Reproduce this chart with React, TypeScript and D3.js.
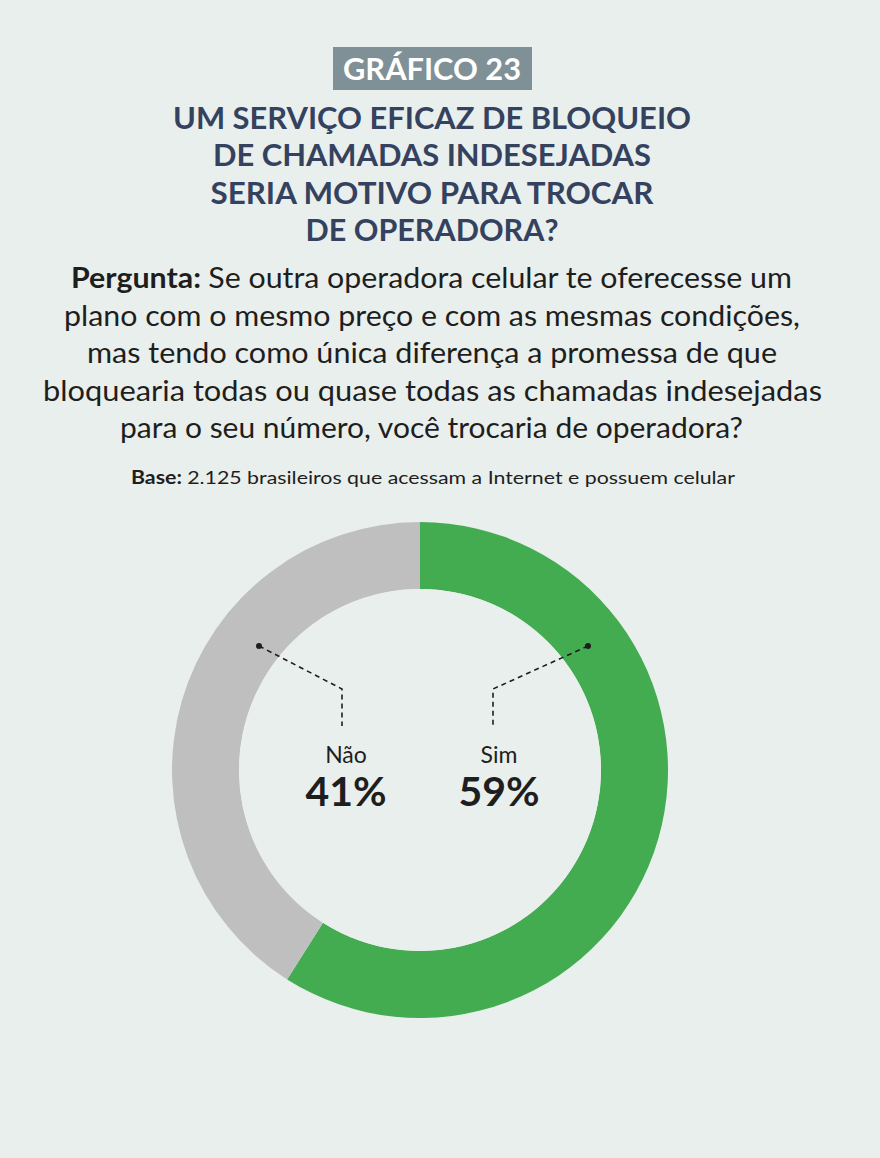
import React from "react";
import * as d3 from "d3";

const categories = ["Sim", "Não"];
const values = [59, 41];
const colors = ["#43ac50", "#bfbfbf"];

const titleBadge = "GRÁFICO 23";
const titleLines = [
  "UM SERVIÇO EFICAZ DE BLOQUEIO",
  "DE CHAMADAS INDESEJADAS",
  "SERIA MOTIVO PARA TROCAR",
  "DE OPERADORA?",
];
const questionLines = [
  "Se outra operadora celular te oferecesse um",
  "plano com o mesmo preço e com as mesmas condições,",
  "mas tendo como única diferença a promessa de que",
  "bloquearia todas ou quase todas as chamadas indesejadas",
  "para o seu número, você trocaria de operadora?",
];
const baseText = "2.125 brasileiros que acessam a Internet e possuem celular";

const W = 880;
const H = 1158;
const FONT = "Lato, 'Open Sans', sans-serif";

export default function App() {
  const cx = 420;
  const cy = 770;
  const outerR = 248;
  const innerR = 181;
  const pie = d3.pie<number>().sort(null).value((d) => d)(values);
  const arc = d3.arc<d3.PieArcDatum<number>>().innerRadius(innerR).outerRadius(outerR);

  const titleWidths = [518, 438, 443, 253];
  const qSpans = [
    [71, 792],
    [64, 800],
    [87, 777],
    [43, 822],
    [120, 743],
  ];

  const annos = [
    { dot: [168, -124], elbow: [73, -81], end: -44, tx: 79 },
    { dot: [-161, -124], elbow: [-78, -81], end: -44, tx: -74 },
  ];

  return (
    <svg
      width={W}
      height={H}
      style={{ position: "absolute", left: 0, top: 0, background: "#e9efec" }}
      fontFamily={FONT}
    >
      <rect x={0} y={0} width={W} height={H} fill="#e9efec" />
      <rect x={333} y={47} width={199} height={43} fill="#7f9096" />
      <text
        x={432}
        y={80}
        textAnchor="middle"
        fill="#ffffff"
        fontWeight={700}
        fontSize={30}
        textLength={178}
        lengthAdjust="spacingAndGlyphs"
      >
        {titleBadge}
      </text>
      {titleLines.map((t, i) => (
        <text
          key={i}
          x={432}
          y={129 + i * 37.3}
          textAnchor="middle"
          fill="#34425f"
          fontWeight={700}
          fontSize={30}
          textLength={titleWidths[i]}
          lengthAdjust="spacingAndGlyphs"
        >
          {t}
        </text>
      ))}
      {questionLines.map((t, i) => (
        <text
          key={i}
          x={(qSpans[i][0] + qSpans[i][1]) / 2}
          y={288 + i * 37.5}
          textAnchor="middle"
          fill="#1e1e1e"
          fontSize={29}
          fontWeight={400}
          textLength={qSpans[i][1] - qSpans[i][0]}
          lengthAdjust="spacingAndGlyphs"
        >
          {i === 0 ? <tspan fontWeight={700}>Pergunta: </tspan> : null}
          {t}
        </text>
      ))}
      <text
        x={433}
        y={484}
        textAnchor="middle"
        fill="#1e1e1e"
        fontSize={18}
        fontWeight={400}
        textLength={604}
        lengthAdjust="spacingAndGlyphs"
      >
        <tspan fontWeight={700}>Base: </tspan>
        {baseText}
      </text>

      <g transform={`translate(${cx},${cy})`}>
        {pie.map((p, i) => (
          <path key={categories[i]} d={arc(p) || ""} fill={colors[i]} />
        ))}
        <circle r={innerR} fill="#e9efec" />
        {annos.map((a, i) => (
          <g key={i}>
            <polyline
              points={`${a.dot[0]},${a.dot[1]} ${a.elbow[0]},${a.elbow[1]} ${a.elbow[0]},${a.end}`}
              fill="none"
              stroke="#1e1e1e"
              strokeWidth={1.6}
              strokeDasharray="5,4"
            />
            <circle cx={a.dot[0]} cy={a.dot[1]} r={3} fill="#1e1e1e" />
            <text x={a.tx} y={-7} textAnchor="middle" fill="#1e1e1e" fontSize={23} fontWeight={400}>
              {categories[i]}
            </text>
            <text x={a.tx} y={36} textAnchor="middle" fill="#1e1e1e" fontSize={41} fontWeight={700}>
              {`${values[i]}%`}
            </text>
          </g>
        ))}
      </g>
    </svg>
  );
}
